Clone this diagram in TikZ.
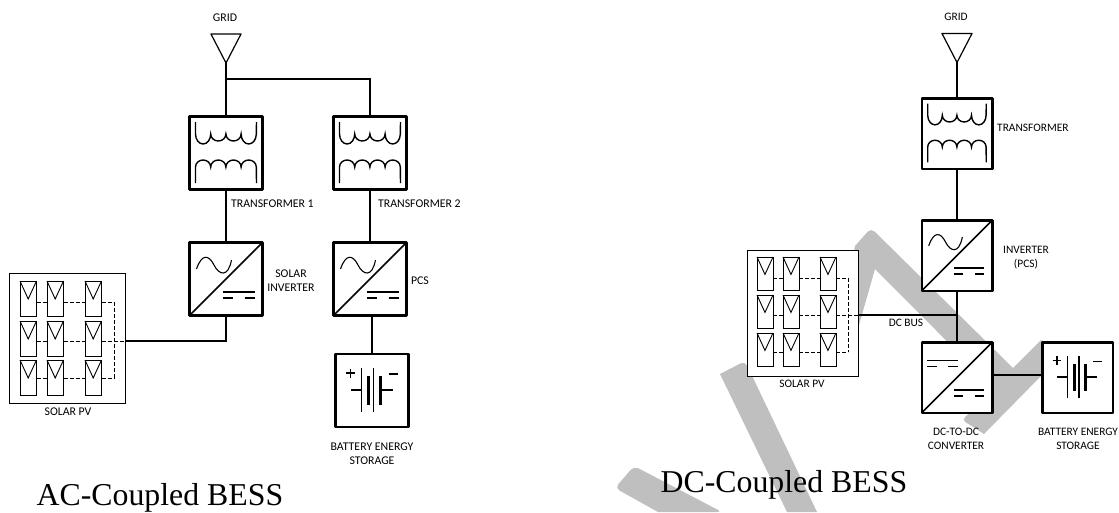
\documentclass[tikz,border=0pt]{standalone}
\usepackage{fontspec}
\setmainfont{Carlito}
\newfontfamily\titlefont{Liberation Serif}
\definecolor{markgray}{HTML}{BFBFBF}
\tikzset{
  powerbox/.style={draw, fill=white, line width=2.5pt, minimum size=#1, inner sep=0pt, line join=round},
  pvbox/.style={draw, fill=white, line width=1pt, minimum width=#1, inner sep=0pt},
  wire/.style={line width=1.5pt},
  pvdash/.style={line width=1pt, dash pattern=on 4pt off 2pt},
  tag/.style={font=\fontsize{11.8}{14.4}\selectfont, align=center, inner sep=0pt},
  tagb/.style={font=\fontsize{11.4}{14}\selectfont, align=center, inner sep=0pt},
  heading/.style={font=\titlefont\fontsize{31.8}{34}\selectfont, inner sep=0pt, anchor=base west},
  windings/.pic={
    \draw[line width=1.4pt] (-30.5,-31) -- (-30.5,-19) arc (180:0:7.6 and 10) arc (180:0:7.6 and 7) arc (180:0:7.6 and 7) arc (180:0:7.6 and 10) -- (30.5,-31);
    \draw[line width=1.4pt] (-30.5,30) -- (-30.5,14) arc (180:360:7.6 and 7) arc (180:360:7.6 and 7) arc (180:360:7.6 and 7) arc (180:360:7.6 and 7) -- (30.5,30);
  },
  diagline/.pic={\draw[line width=1.5pt] (-36,36) -- (36,-36);},
  dcbars/.pic={
    \draw[line width=1.5pt] (-16,-3) -- (16,-3);
    \draw[line width=1.5pt] (-16,3) -- (-6,3) (6,3) -- (16,3);
  },
  sinewave/.pic={
    \draw[line width=1.1pt] (-17.5,4) .. controls (-12,-12) and (-5,-10) .. (0,0) .. controls (5,10) and (14,13) .. (17.5,-5);
  },
  gridmark/.pic={\draw[line width=1.2pt, line join=round] (-15,0) -- (15,0) -- (0,29) -- cycle;},
  cells/.pic={\draw[line width=1pt] (0,0) rectangle (16.5,35); \draw[line width=.9pt] (0,0) -- (8.2,18) -- (16.5,0);},
  cellmark/.pic={
    \draw[line width=1.2pt] (-21.5,-.5) -- (-10.5,-.5) (-10.5,-22.5) -- (-10.5,21.5);
    \draw[line width=3pt] (-3.5,-14.5) -- (-3.5,14.5);
    \draw[line width=1.2pt] (1.5,-22.5) -- (1.5,21.5);
    \draw[line width=3pt] (8.5,-14.5) -- (8.5,14.5);
    \draw[line width=1.5pt] (8.5,-.5) -- (20.5,-.5);
    \draw[line width=1.4pt] (-26,-17.5) -- (-17,-17.5) (-21.5,-22) -- (-21.5,-13) (16.5,-16.5) -- (25.5,-16.5);
  },
}
\begin{document}
\begin{tikzpicture}[x=1pt,y=-1pt]
\useasboundingbox (0,0) rectangle (1119,512);
% grey marks behind
\fill[markgray, rounded corners=5pt] (855,246) -- (871,228) [sharp corners] -- (1013,368) -- (1041,340) -- (1050,345) -- (1043,374) -- (984,434) [rounded corners=4pt] -- (978,430) -- (962,420) [sharp corners] -- (994.5,389) -- (875,269) -- (859,325) -- (840,325) -- cycle;
\fill[markgray, rounded corners=5pt] (720,374) -- (745,361) [sharp corners] -- (817,512) -- (787,512) -- cycle;
\fill[markgray, rounded corners=5pt] (634,466) -- (722,512) [sharp corners] -- (658,512) [rounded corners=5pt] -- (615,488) -- cycle;

% left side
\pic at (226,34) {gridmark};
\coordinate (gridA) at (226,63);
\node[powerbox=73pt] (trafoA) at (226,153) {};
\node[powerbox=73pt] (trafoB) at (370,153) {};
\node[powerbox=73pt] (invA) at (226,279) {};
\node[powerbox=73pt] (invB) at (370,279) {};
\node[powerbox=73pt] (battA) at (372,390.5) {};
\node[pvbox=115.5pt, minimum height=130pt] (pvA) at (67.5,338) {};
\coordinate (tapA) at (226,79);
\draw[wire] (gridA) -- (trafoA.north);
\draw[wire] (tapA) -| (trafoB.north);
\draw[wire] (trafoA.south) -- (invA.north);
\draw[wire] (trafoB.south) -- (invB.north);
\draw[wire] (invB.south -| battA) -- (battA.north);
\coordinate (pvtapA) at (125,341);
\draw[wire] (invA.south) |- (pvtapA);
\foreach \cx in {20,47,85} \foreach \cy in {281,321,360} \pic at (\cx,\cy) {cells};
\foreach \wy in {302,341,378}
  \draw[pvdash] (36.5,\wy) -- (47,\wy) (63.5,\wy) -- (85,\wy) (101.5,\wy) -- (114,\wy);
\draw[pvdash] (114,302) -- (114,378) (114,341) -- (125,341);
\foreach \bx in {invA,invB} {
  \pic at (\bx) {diagline};
  \pic at ([shift={(-12,-14)}]\bx.center) {sinewave};
  \pic at ([shift={(12.5,16)}]\bx.center) {dcbars};
}
\pic at (trafoA) {windings};
\pic at (trafoB) {windings};
\pic at (battA) {cellmark};
\node[tag] (gridlabA) at (225,18) {GRID};
\node[tag, anchor=west] (tlabA) at (231,204) {TRANSFORMER 1};
\node[tag, anchor=west] (tlabB) at (378,204) {TRANSFORMER 2};
\node[tag] (invlabA) at (291,280.5) {SOLAR\\INVERTER};
\node[tag] (invlabB) at (420,281) {PCS};
\node[tag] (pvlabA) at (68,412) {SOLAR PV};
\node[tag] (battlabA) at (372,454) {BATTERY ENERGY\\STORAGE};
\node[heading] (headA) at (36.5,505) {AC-Coupled BESS};

% right side
\pic at (957,33.5) {gridmark};
\coordinate (gridB) at (957,62);
\node[powerbox=70.5pt] (trafoC) at (957,133.5) {};
\node[powerbox=70.5pt] (invC) at (957,255.5) {};
\node[powerbox=70.5pt] (convC) at (957,377.5) {};
\node[powerbox=70.5pt] (battC) at (1077.5,377.5) {};
\node[pvbox=111pt, minimum height=126pt] (pvC) at (802.5,313) {};
\coordinate (busC) at (957,315);
\coordinate (pvtapC) at (858,315);
\coordinate (conveastC) at (992,375);
\coordinate (battwestC) at (1042,375);
\draw[wire] (gridB) -- (trafoC.north);
\draw[wire] (trafoC.south) -- (invC.north);
\draw[wire] (invC.south) -- (convC.north);
\draw[wire] (pvtapC) -- (busC);
\draw[wire] (conveastC) -- (battwestC);
\foreach \cx in {757,783,820} \foreach \cy in {257,295,333} \pic[scale=.97] at (\cx,\cy) {cells};
\foreach \wy in {278,315,352}
  \draw[pvdash] (773,\wy) -- (783,\wy) (799,\wy) -- (820,\wy) (836,\wy) -- (848,\wy);
\draw[pvdash] (848,278) -- (848,352) (848,315) -- (858,315);
\pic[scale=.96] at (invC) {diagline};
\pic[scale=.96] at ([shift={(-11.5,-13.5)}]invC.center) {sinewave};
\pic[scale=.96] at ([shift={(12,15.5)}]invC.center) {dcbars};
\pic[scale=.96] at (convC) {diagline};
\pic[scale=.96] at ([shift={(-14.5,-14)}]convC.center) {dcbars};
\pic[scale=.96] at ([shift={(12,15.5)}]convC.center) {dcbars};
\pic[scale=.96] at (trafoC) {windings};
\pic[scale=.96] at (battC) {cellmark};
\node[tagb] (gridlabC) at (956,17) {GRID};
\node[tagb, anchor=west] (tlabC) at (997,128) {TRANSFORMER};
\node[tagb] (invlabC) at (1026,257.5) {INVERTER\\(PCS)};
\node[tagb] (buslabC) at (906,323) {DC BUS};
\node[tagb] (pvlabC) at (802,384) {SOLAR PV};
\node[tagb] (convlabC) at (956,438.5) {DC-TO-DC\\CONVERTER};
\node[tagb] (battlabC) at (1078,438.5) {BATTERY ENERGY\\STORAGE};
\node[heading] (headC) at (660.5,492) {DC-Coupled BESS};
\end{tikzpicture}
\end{document}
